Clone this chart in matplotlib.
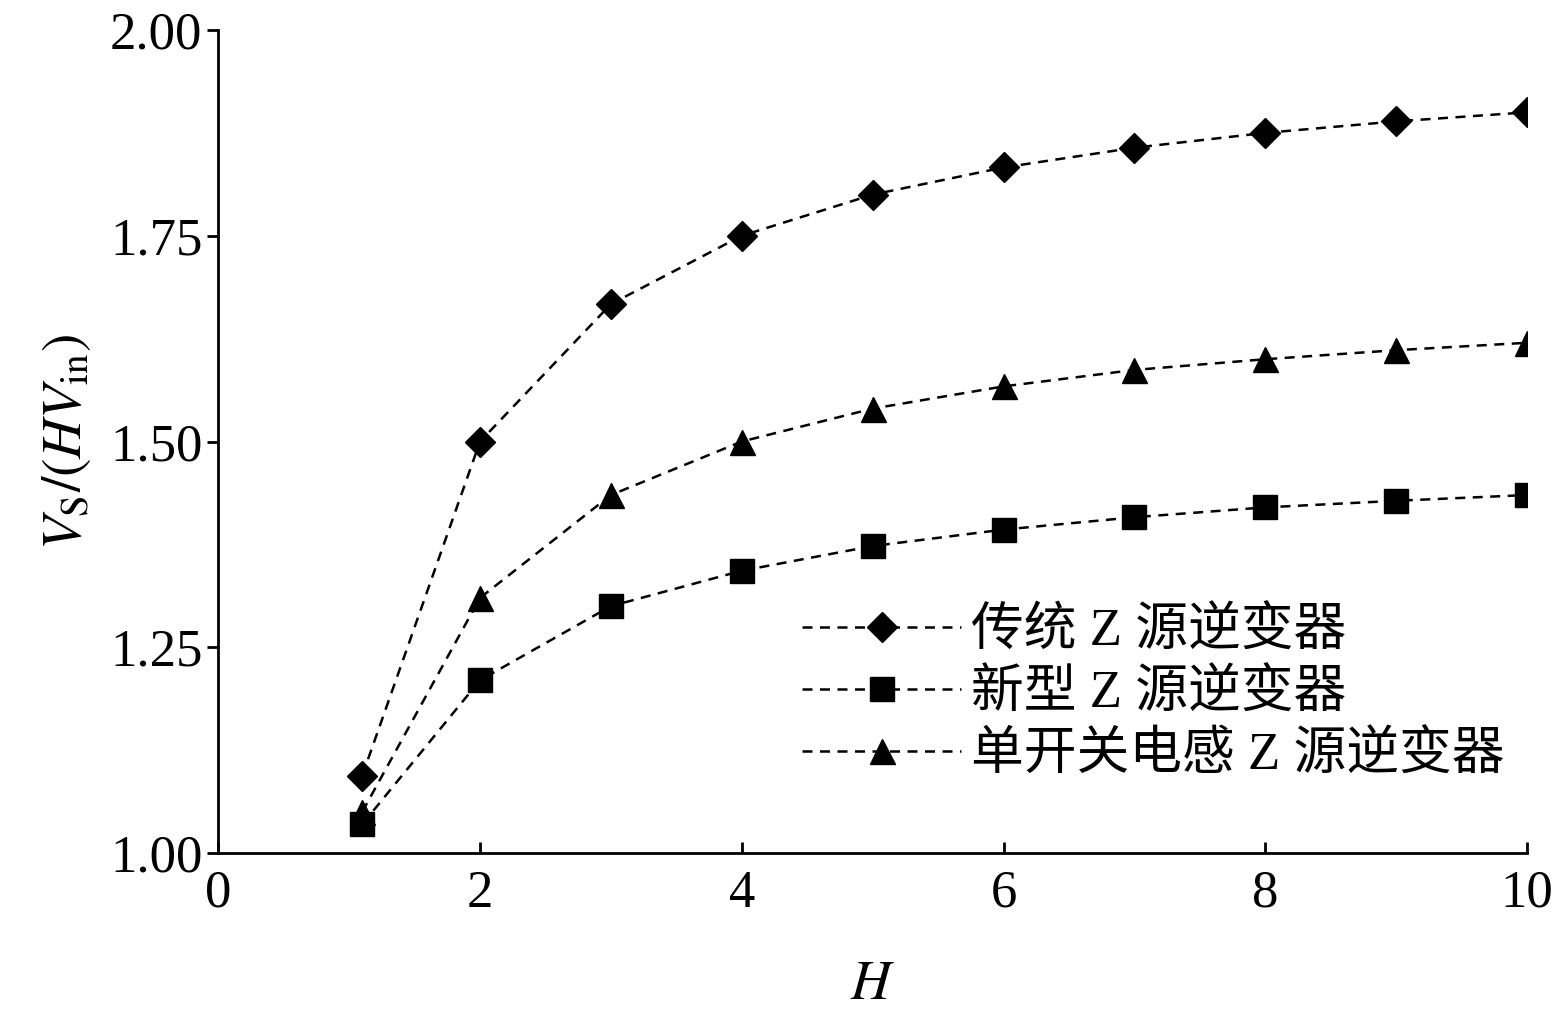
import matplotlib.pyplot as plt

plt.rcParams['font.family'] = ['Liberation Serif', 'Noto Sans CJK SC']
plt.rcParams['mathtext.fontset'] = 'stix'

# data
H = [1.1, 2, 3, 4, 5, 6, 7, 8, 9, 10]
traditional = [1.094, 1.5, 1.667, 1.75, 1.8, 1.833, 1.857, 1.875, 1.889, 1.9]
new_type = [1.035, 1.21, 1.3, 1.343, 1.373, 1.393, 1.408, 1.42, 1.428, 1.435]
single_switch = [1.05, 1.31, 1.435, 1.5, 1.54, 1.567, 1.587, 1.6, 1.611, 1.62]
labels = ['传统 Z 源逆变器', '新型 Z 源逆变器', '单开关电感 Z 源逆变器']

fig = plt.figure(figsize=(15.59, 10.21), dpi=100)
ax = fig.add_axes([0.14, 0.1645, 0.8395, 0.8061])

style = dict(color='k', linestyle=(0, (4, 3)), linewidth=1.8)
ax.plot(H, traditional, marker='D', markersize=15, label=labels[0], **style)
ax.plot(H, new_type, marker='s', markersize=17, label=labels[1], **style)
ax.plot(H, single_switch, marker='^', markersize=18, label=labels[2], **style)

ax.set_xlim(0, 10)
ax.set_ylim(1.0, 2.0)
ax.set_xticks([0, 2, 4, 6, 8, 10])
ax.set_yticks([1.0, 1.25, 1.5, 1.75, 2.0])
ax.set_yticklabels(['1.00', '1.25', '1.50', '1.75', '2.00'])
ax.spines['top'].set_visible(False)
ax.spines['right'].set_visible(False)
for s in ['left', 'bottom']:
    ax.spines[s].set_linewidth(2)
ax.tick_params(axis='both', labelsize=38, width=2, length=8, direction='out')
ax.tick_params(axis='x', direction='in', pad=12)

ax.set_xlabel('$H$', fontsize=40, labelpad=30)
ax.set_ylabel(r'$V_{\mathrm{S}}/(HV_{\mathrm{in}})$', fontsize=40, labelpad=12)

ax.legend(loc='lower left', bbox_to_anchor=(0.41, 0.03), frameon=False,
          fontsize=38, handlelength=3.0, labelspacing=0.25, handletextpad=0.2)

fig.savefig('out.png', dpi=100)
